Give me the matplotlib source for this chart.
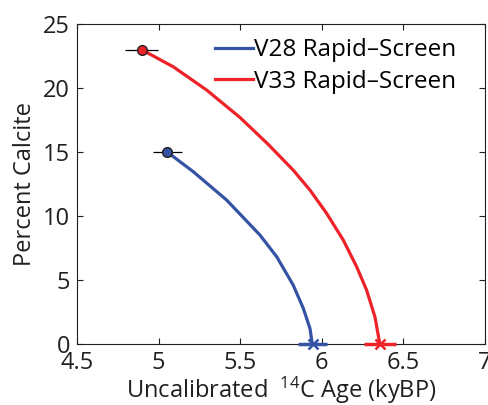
import matplotlib
matplotlib.use('Agg')
import matplotlib.pyplot as plt

# V28 rapid-screen curve (age in kyBP, percent calcite)
v28_age = [5.053, 5.213, 5.417, 5.621, 5.724, 5.825, 5.887, 5.928, 5.940, 5.944]
v28_calcite = [15.0, 13.46, 11.25, 8.52, 6.82, 4.61, 2.79, 1.22, 0.18, 0.0]

# V33 rapid-screen curve
v33_age = [4.896, 5.090, 5.295, 5.499, 5.672, 5.825, 5.928, 6.030,
           6.132, 6.214, 6.275, 6.326, 6.352, 6.357]
v33_calcite = [23.0, 21.66, 19.84, 17.70, 15.60, 13.59, 12.03, 10.21,
               8.125, 6.04, 4.22, 2.13, 0.31, 0.0]

# endpoint age uncertainties
v28_err_top = 0.09
v28_err_bot = 0.09
v33_err_top = 0.10
v33_err_bot = 0.10

blue = '#3453A4'
red = '#EE2229'
dark = '#231F20'

plt.rcParams['font.family'] = ['Open Sans', 'DejaVu Sans']
plt.rcParams['mathtext.fontset'] = 'custom'
plt.rcParams['mathtext.rm'] = 'Open Sans'
plt.rcParams['mathtext.default'] = 'regular'

fig = plt.figure(figsize=(4.89, 4.05), dpi=100)
ax = fig.add_axes([0.1575, 0.1506, 0.834, 0.790])

ax.plot(v28_age, v28_calcite, color=blue, linewidth=2.3, label='V28 Rapid\u2013Screen', zorder=3)
ax.plot(v33_age, v33_calcite, color=red, linewidth=2.3, label='V33 Rapid\u2013Screen', zorder=3)

# top points: black thin error bars with circles
ax.errorbar(v28_age[0], v28_calcite[0], xerr=v28_err_top, fmt='o', color=blue,
            markeredgecolor=dark, markersize=7, ecolor='black', elinewidth=0.9,
            capsize=0, zorder=4)
ax.errorbar(v33_age[0], v33_calcite[0], xerr=v33_err_top, fmt='o', color=red,
            markeredgecolor=dark, markersize=7, ecolor='black', elinewidth=0.9,
            capsize=0, zorder=4)

# bottom points: coloured thick error bars with crosses
ax.errorbar(v28_age[-1], v28_calcite[-1], xerr=v28_err_bot, fmt='x', color=blue,
            markersize=7, markeredgewidth=1.8, ecolor=blue, elinewidth=2.5,
            capsize=0, zorder=4, clip_on=False)
ax.errorbar(v33_age[-1], v33_calcite[-1], xerr=v33_err_bot, fmt='x', color=red,
            markersize=7, markeredgewidth=1.8, ecolor=red, elinewidth=2.5,
            capsize=0, zorder=4, clip_on=False)

ax.set_xlim(4.5, 7)
ax.set_ylim(0, 25)
ax.set_xticks([4.5, 5, 5.5, 6, 6.5, 7])
ax.set_xticklabels(['4.5', '5', '5.5', '6', '6.5', '7'])
ax.set_yticks([0, 5, 10, 15, 20, 25])

ax.tick_params(direction='in', top=True, right=True, length=4.5, width=0.8,
               labelsize=17, colors=dark, pad=5)
for s in ax.spines.values():
    s.set_linewidth(0.8)
    s.set_color(dark)

ax.set_xlabel(r'Uncalibrated  $^{14}$C Age (kyBP)', fontsize=17, color=dark, labelpad=0)
ax.set_ylabel('Percent Calcite', fontsize=17, color=dark, labelpad=4)

ax.legend(loc='upper left', frameon=False, fontsize=17.5, handlelength=1.55,
          handletextpad=0.08, borderaxespad=0, borderpad=0, labelspacing=0.3,
          bbox_to_anchor=(0.338, 0.955))

fig.savefig('out.png', dpi=100)
